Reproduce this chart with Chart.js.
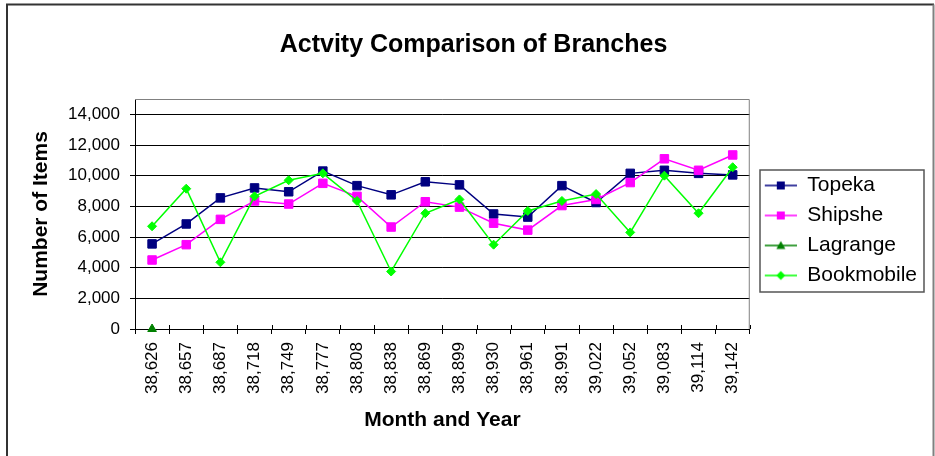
<!DOCTYPE html>
<html>
<head>
<meta charset="utf-8">
<script src="https://cdn.jsdelivr.net/npm/chart.js@4.4.1/dist/chart.umd.min.js"></script>
<style>
  html, body { margin: 0; padding: 0; background: #fff; }
  canvas { display: block; }
</style>
</head>
<body>
<canvas id="chart" width="935" height="456"></canvas>
<script>
// chart data
const months = ['38,626', '38,657', '38,687', '38,718', '38,749', '38,777', '38,808', '38,838', '38,869',
  '38,899', '38,930', '38,961', '38,991', '39,022', '39,052', '39,083', '39,114', '39,142'];
const topeka = [5550, 6850, 8550, 9200, 8950, 10300, 9350, 8750, 9600, 9400, 7500, 7300, 9350, 8250, 10150, 10350, 10150, 10050];
const shipshe = [4500, 5500, 7150, 8350, 8150, 9500, 8650, 6650, 8300, 7950, 6900, 6450, 8050, 8450, 9550, 11100, 10350, 11350];
const lagrange = [0, null, null, null, null, null, null, null, null, null, null, null, null, null, null, null, null, null];
const bookmobile = [6700, 9150, 4350, 8650, 9700, 10150, 8350, 3750, 7550, 8450, 5500, 7700, 8350, 8800, 6300, 10000, 7550, 10550];
const yTicks = [0, 2000, 4000, 6000, 8000, 10000, 12000, 14000];

const FONT = "'Liberation Sans', Arial, sans-serif";

// little line + marker pictures for the legend
function legendSample(color, style) {
  const c = document.createElement('canvas');
  c.width = 38;
  c.height = 14;
  const g = c.getContext('2d');
  g.strokeStyle = color;
  g.fillStyle = color;
  g.lineWidth = 1.5;
  g.beginPath();
  g.moveTo(6, 7);
  g.lineTo(38, 7);
  g.stroke();
  g.beginPath();
  if (style === 'rect') {
    g.rect(18, 3, 8, 8);
  } else if (style === 'triangle') {
    g.moveTo(22, 2.5);
    g.lineTo(26.5, 10.5);
    g.lineTo(17.5, 10.5);
    g.closePath();
  } else {
    g.moveTo(22, 2.5);
    g.lineTo(26.5, 7);
    g.lineTo(22, 11.5);
    g.lineTo(17.5, 7);
    g.closePath();
  }
  g.fill();
  return c;
}

const samples = [
  legendSample('#000080', 'rect'),
  legendSample('#ff00ff', 'rect'),
  legendSample('#008000', 'triangle'),
  legendSample('#00ff00', 'rectRot'),
];

// outer frame, plot area frame and the crossing ticks of the x axis
const framePlugin = {
  id: 'frame',
  beforeDraw(chart) {
    const ctx = chart.ctx;
    ctx.save();
    ctx.fillStyle = '#fff';
    ctx.fillRect(0, 0, chart.width, chart.height);
    ctx.lineWidth = 2;
    ctx.strokeStyle = '#333';
    ctx.beginPath();
    ctx.moveTo(7, 470);
    ctx.lineTo(7, 4.5);
    ctx.lineTo(934, 4.5);
    ctx.stroke();
    ctx.strokeStyle = '#808080';
    ctx.beginPath();
    ctx.moveTo(933.5, 4.5);
    ctx.lineTo(933.5, 470);
    ctx.stroke();
    ctx.restore();
  },
  beforeDatasetsDraw(chart) {
    const {ctx, chartArea: a, scales: {x}} = chart;
    ctx.save();
    ctx.lineWidth = 1;
    ctx.strokeStyle = '#808080';
    ctx.beginPath();
    ctx.moveTo(a.left, a.top + 0.5);
    ctx.lineTo(a.right - 0.5, a.top + 0.5);
    ctx.lineTo(a.right - 0.5, a.bottom);
    ctx.stroke();
    ctx.strokeStyle = '#000';
    ctx.beginPath();
    for (let i = 0; i <= months.length; i++) {
      const px = Math.round(x.getPixelForValue(i - 0.5)) + 0.5;
      ctx.moveTo(px, a.bottom - 4);
      ctx.lineTo(px, a.bottom);
    }
    ctx.stroke();
    ctx.restore();
  },
  afterDraw(chart) {
    const boxes = chart.legend.legendHitBoxes;
    if (!boxes || !boxes.length) return;
    const left = boxes[0].left + 1;
    const top = boxes[0].top - 5;
    const right = Math.max(...boxes.map(b => b.left + b.width)) + 7;
    const last = boxes[boxes.length - 1];
    const bottom = last.top + last.height + 6;
    const ctx = chart.ctx;
    ctx.save();
    ctx.lineWidth = 1.5;
    ctx.strokeStyle = '#555';
    ctx.strokeRect(Math.round(left), Math.round(top), Math.round(right - left), Math.round(bottom - top));
    ctx.restore();
  }
};

const ctx = document.getElementById('chart').getContext('2d');
new Chart(ctx, {
  type: 'line',
  data: {
    labels: months,
    datasets: [
      {
        label: 'Topeka',
        data: topeka,
        borderColor: '#000080',
        backgroundColor: '#000080',
        pointStyle: 'rect',
        pointRadius: 6,
        order: 4,
      },
      {
        label: 'Shipshe',
        data: shipshe,
        borderColor: '#ff00ff',
        backgroundColor: '#ff00ff',
        pointStyle: 'rect',
        pointRadius: 6,
        order: 3,
      },
      {
        label: 'Lagrange',
        data: lagrange,
        borderColor: '#008000',
        backgroundColor: '#008000',
        pointStyle: 'triangle',
        pointRadius: 5,
        order: 2,
      },
      {
        label: 'Bookmobile',
        data: bookmobile,
        borderColor: '#00ff00',
        backgroundColor: '#00ff00',
        pointStyle: 'rectRot',
        pointRadius: 4.5,
        order: 1,
      },
    ],
  },
  options: {
    responsive: false,
    animation: false,
    events: [],
    clip: false,
    elements: {
      line: { borderWidth: 1.5, tension: 0 },
      point: { borderWidth: 1 },
    },
    layout: {
      padding: { left: 20, top: 5, right: 8, bottom: 0 },
    },
    scales: {
      x: {
        offset: true,
        afterFit: (scale) => { scale.height = 127; },
        grid: {
          offset: true,
          drawOnChartArea: false,
          color: '#000',
          tickLength: 5,
        },
        border: { color: '#000', width: 1 },
        ticks: {
          autoSkip: false,
          minRotation: 90,
          maxRotation: 90,
          padding: 8,
          color: '#000',
          font: { family: FONT, size: 17 },
        },
        title: {
          display: true,
          text: 'Month and Year',
          color: '#000',
          font: { family: FONT, size: 21, weight: 'bold' },
          padding: { top: 0, bottom: 23 },
        },
      },
      y: {
        min: 0,
        max: 15000,
        afterFit: (scale) => { scale.width = 115; },
        afterBuildTicks: (scale) => { scale.ticks = yTicks.map(v => ({ value: v })); },
        grid: {
          color: '#000',
          tickLength: 5,
        },
        border: { color: '#000', width: 1 },
        ticks: {
          padding: 10,
          color: '#000',
          font: { family: FONT, size: 17 },
          callback: (v) => v.toLocaleString('en-US'),
        },
        title: {
          display: true,
          text: 'Number of Items',
          color: '#000',
          font: { family: FONT, size: 21, weight: 'bold' },
          padding: { top: 9, bottom: 0 },
        },
      },
    },
    plugins: {
      title: {
        display: true,
        text: 'Actvity Comparison of Branches',
        color: '#000',
        font: { family: FONT, size: 25, weight: 'bold' },
        padding: { top: 25, bottom: 39 },
      },
      legend: {
        position: 'right',
        labels: {
          usePointStyle: true,
          pointStyleWidth: 38,
          padding: 9,
          color: '#000',
          font: { family: FONT, size: 21 },
          sort: (a, b) => a.datasetIndex - b.datasetIndex,
          generateLabels: (chart) => {
            const items = Chart.defaults.plugins.legend.labels.generateLabels(chart);
            items.forEach(item => { item.pointStyle = samples[item.datasetIndex]; });
            return items;
          },
        },
      },
      tooltip: { enabled: false },
    },
  },
  plugins: [framePlugin],
});
</script>
</body>
</html>
